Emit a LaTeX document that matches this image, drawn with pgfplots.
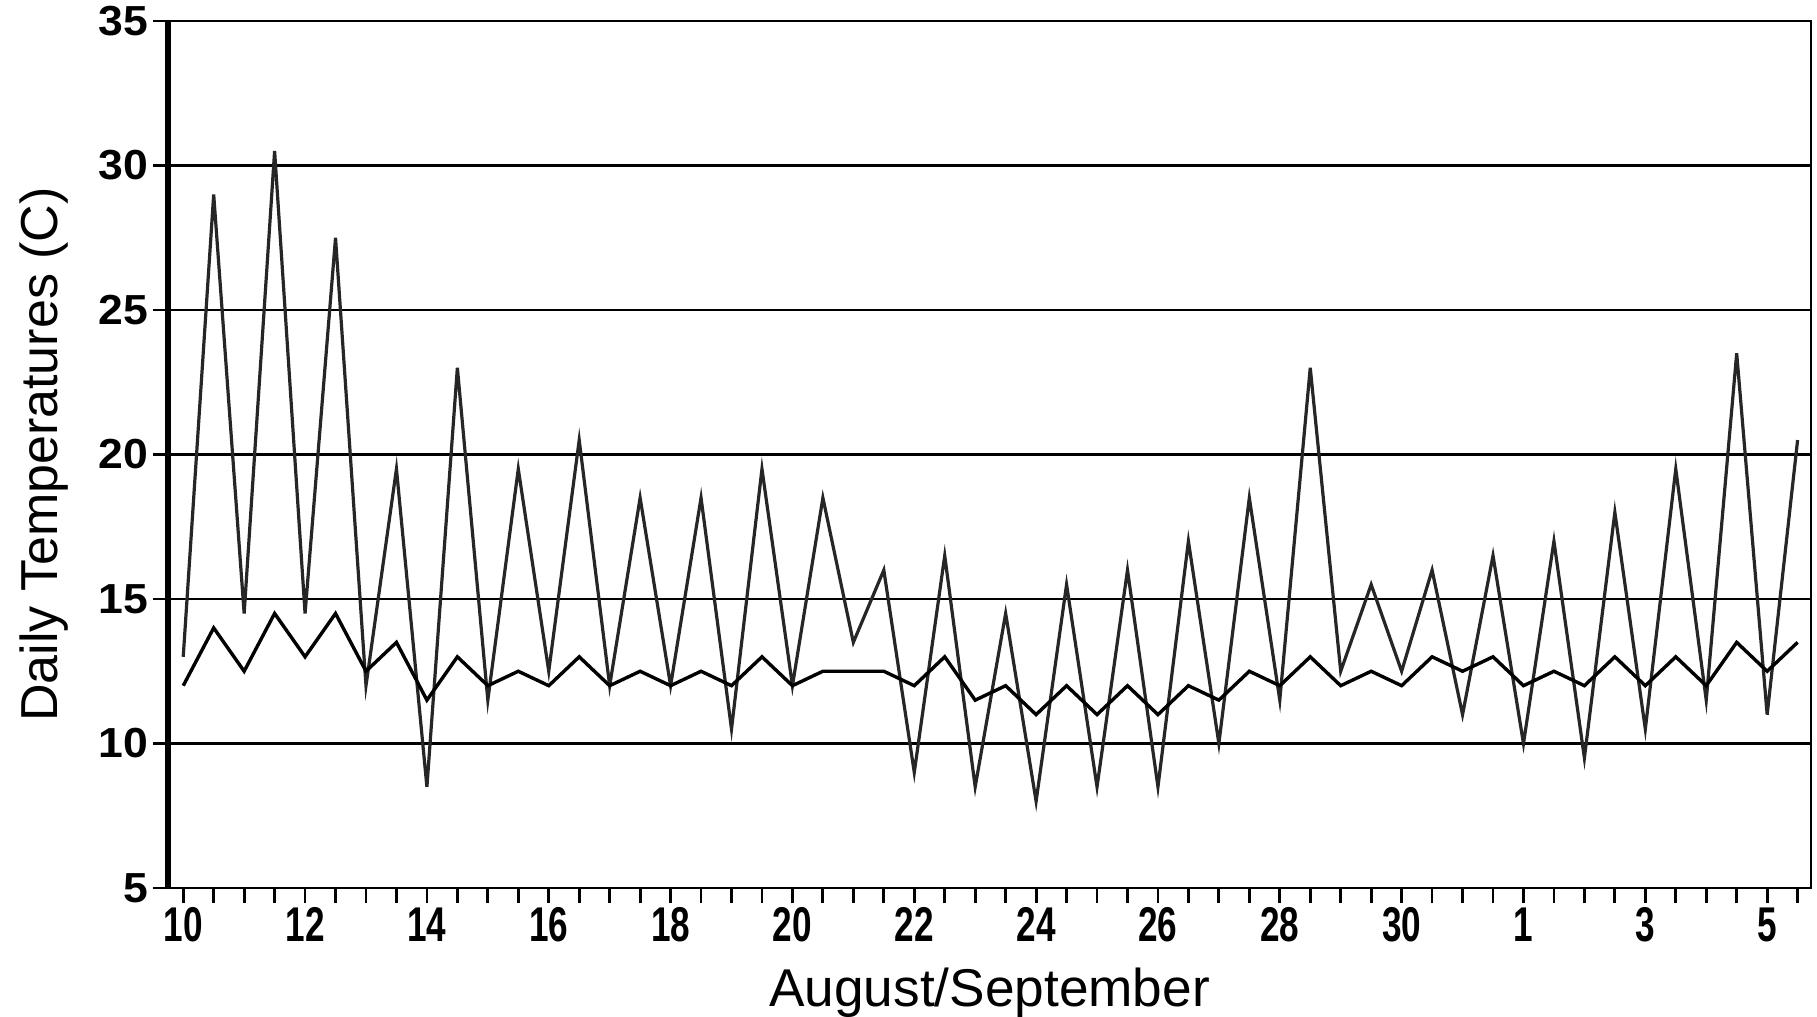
\documentclass[border=0pt]{standalone}
\usepackage{pgfplots}
\pgfplotsset{compat=1.18}
\usepackage{fontspec}
\setmainfont{Liberation Sans}
\newfontfamily\xtickfont[FakeStretch=0.72]{Liberation Sans}
\newfontfamily\ytickfont[FakeStretch=1.06]{Liberation Sans}
\pgfplotstableread{
x y
10 13
10.5 29
11 14.5
11.5 30.5
12 14.5
12.5 27.5
13 12
13.5 19.5
14 8.5
14.5 23
15 11.5
15.5 19.5
16 12.5
16.5 20.5
17 12
17.5 18.5
18 12
18.5 18.5
19 10.5
19.5 19.5
20 12
20.5 18.5
21 13.5
21.5 16
22 9
22.5 16.5
23 8.5
23.5 14.5
24 8
24.5 15.5
25 8.5
25.5 16
26 8.5
26.5 17
27 10
27.5 18.5
28 11.5
28.5 23
29 12.5
29.5 15.5
30 12.5
30.5 16
31 11
31.5 16.5
32 10
32.5 17
33 9.5
33.5 18
34 10.5
34.5 19.5
35 11.5
35.5 23.5
36 11
36.5 20.5
}\airtemp
\pgfplotstableread{
x y
10 12
10.5 14
11 12.5
11.5 14.5
12 13
12.5 14.5
13 12.5
13.5 13.5
14 11.5
14.5 13
15 12
15.5 12.5
16 12
16.5 13
17 12
17.5 12.5
18 12
18.5 12.5
19 12
19.5 13
20 12
20.5 12.5
21 12.5
21.5 12.5
22 12
22.5 13
23 11.5
23.5 12
24 11
24.5 12
25 11
25.5 12
26 11
26.5 12
27 11.5
27.5 12.5
28 12
28.5 13
29 12
29.5 12.5
30 12
30.5 13
31 12.5
31.5 13
32 12
32.5 12.5
33 12
33.5 13
34 12
34.5 13
35 12
35.5 13.5
36 12.5
36.5 13.5
}\watertemp
\begin{document}
\begin{tikzpicture}
\useasboundingbox (-42pt,-32pt) rectangle (412.25pt,222pt);
\begin{axis}[
  scale only axis,
  width=410.75pt, height=216.75pt,
  xmin=9.75, xmax=36.72,
  ymin=5, ymax=35,
  xtick={10,12,...,36},
  xticklabels={10,12,14,16,18,20,22,24,26,28,30,1,3,5},
  minor xtick={10.5,11,...,36.5},
  ytick={5,10,...,35},
  tick align=outside,
  major tick length=3.75pt,
  minor tick length=3.75pt,
  xtick pos=bottom, ytick pos=left,
  every tick/.style={black, line width=0.7pt},
  minor tick style={black, line width=0.7pt},
  ymajorgrids,
  grid style={black, line width=0.55pt},
  axis line style={black, line width=0.6pt},
  /pgf/number format/assume math mode=true,
  xticklabel style={font=\xtickfont\bfseries\fontsize{12.2}{12}\selectfont, inner sep=1pt},
  yticklabel style={font=\ytickfont\bfseries\fontsize{10.5}{10}\selectfont, inner sep=1pt},
  xlabel={August/September},
  ylabel={Daily Temperatures (C)},
  xlabel style={font=\fontsize{13.3}{14}\selectfont, at={(rel axis cs:0.5,0)}, anchor=base, yshift=-29.5pt},
  ylabel style={font=\fontsize{13}{14}\selectfont, at={(rel axis cs:0,0.5)}, anchor=base, yshift=27.5pt},
  clip=false,
]
\addplot[black!85, line width=0.8pt] table[x=x,y=y] {\airtemp};
\addplot[black, line width=0.85pt] table[x=x,y=y] {\watertemp};
\draw[black, line width=1.3pt] (rel axis cs:0,0) -- (rel axis cs:0,1);
\end{axis}
\end{tikzpicture}
\end{document}
